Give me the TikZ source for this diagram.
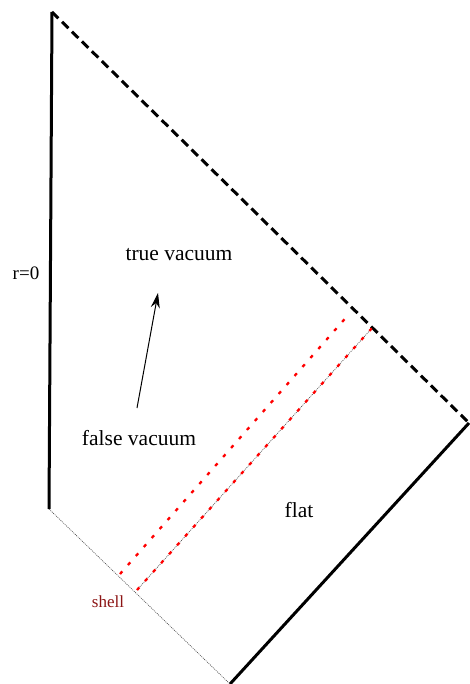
\documentclass[tikz,border=0pt]{standalone}
\usepackage{fontspec}
\setmainfont{Liberation Serif}
\usetikzlibrary{arrows.meta, calc}
\definecolor{shellred}{RGB}{140,20,20}

\begin{document}
\begin{tikzpicture}[
    x=1pt, y=-1pt,
    >={Stealth[length=15pt, width=9pt]},
    edge/.style   ={line width=3pt},
    horizon/.style={line width=3pt, dash pattern=on 9pt off 5pt},
    nullray/.style={line width=0.6pt, black!70, dash pattern=on 1pt off 1pt},
    wall/.style   ={red, line width=2.3pt, dash pattern=on 3.5pt off 8.5pt},
    lbl/.style    ={inner sep=0pt, font=\fontsize{21.5}{24}\selectfont},
]
\useasboundingbox (0,0) rectangle (470,684);
% corners of the diagram
\coordinate (top)    at (52,12);
\coordinate (origin) at (49,509);
\coordinate (corner) at (469,423);
\coordinate (bottom) at (230,684);
% the shell
\coordinate (inA) at (137,590);
\coordinate (inB) at (372,328);
\coordinate (outA) at (120,574);
\coordinate (outB) at (350,313);

\draw[edge] (origin) -- (top);
\draw[horizon] (top) -- (corner);
\draw[edge] (corner) -- (bottom);
\draw[nullray] (origin) -- (bottom);
\draw[nullray] (inA) -- (inB);
\draw[wall] (inA) -- (inB);
\draw[wall] (outA) -- (outB);

\node[lbl, font=\fontsize{19}{22}\selectfont] (rzero) at (26,273) {r=0};
\node[lbl] (true)  at (179,255) {true vacuum};
\node[lbl] (false) at (139,438) {false vacuum};
\node[lbl] (flat)  at (299,510) {flat};
\node[lbl, font=\fontsize{17}{20}\selectfont, text=shellred] (shell) at (108,602) {shell};

\coordinate (tail) at (137,408);
\coordinate (head) at (158,293);
\draw[->, line width=1pt] (tail) -- (head);
\end{tikzpicture}
\end{document}
